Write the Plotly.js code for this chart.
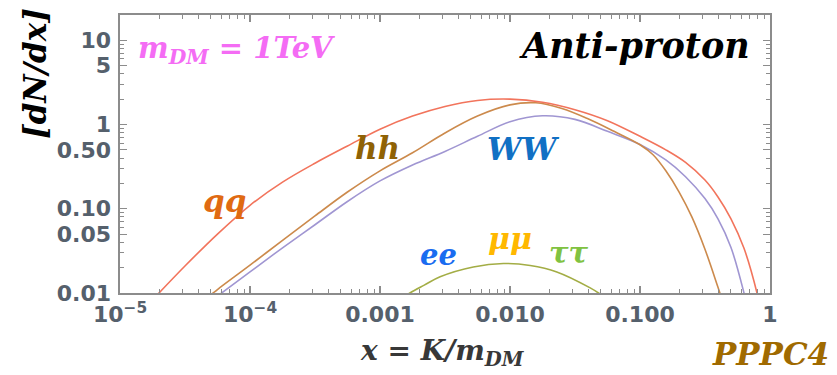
<!DOCTYPE html>
<html>
<head>
<meta charset="utf-8">
<script src="https://cdn.plot.ly/plotly-3.0.1.min.js"></script>
<style>
  html, body { margin: 0; padding: 0; background: #ffffff; }
  #chart { width: 837px; height: 375px; }
</style>
</head>
<body>
<div id="chart"></div>
<script>
// Anti-proton spectra dN/dx at production, m_DM = 1 TeV (PPPC4)
const qqX = [1.78e-5, 3.16e-5, 5.62e-5, 1.0e-4, 1.78e-4, 3.16e-4, 5.62e-4, 1.0e-3, 1.78e-3, 3.16e-3, 5.62e-3, 1.0e-2, 1.78e-2, 3.16e-2, 5.62e-2, 0.1, 0.158, 0.224, 0.316, 0.398, 0.501, 0.631, 0.794, 0.871];
const qqY = [0.0083, 0.0209, 0.0501, 0.110, 0.207, 0.347, 0.556, 0.881, 1.26, 1.64, 1.93, 2.0, 1.84, 1.50, 1.11, 0.724, 0.50, 0.355, 0.219, 0.138, 0.0759, 0.0339, 0.01, 0.005];

const hhX = [4.47e-5, 5.62e-5, 1.0e-4, 1.78e-4, 3.16e-4, 5.62e-4, 1.0e-3, 1.78e-3, 3.16e-3, 5.62e-3, 1.0e-2, 1.58e-2, 2.51e-2, 3.98e-2, 6.31e-2, 0.1, 0.126, 0.158, 0.2, 0.251, 0.316, 0.398, 0.447];
const hhY = [0.0083, 0.011, 0.0214, 0.0422, 0.0822, 0.158, 0.282, 0.462, 0.794, 1.26, 1.71, 1.81, 1.55, 1.17, 0.83, 0.575, 0.437, 0.282, 0.158, 0.0794, 0.0331, 0.0117, 0.0068];

const wwX = [5.25e-5, 1.0e-4, 1.78e-4, 3.16e-4, 5.62e-4, 1.0e-3, 1.78e-3, 3.16e-3, 5.62e-3, 1.0e-2, 1.78e-2, 3.16e-2, 5.62e-2, 0.1, 0.158, 0.224, 0.316, 0.398, 0.501, 0.631, 0.676];
const wwY = [0.0085, 0.0178, 0.0343, 0.0646, 0.122, 0.214, 0.331, 0.479, 0.724, 1.08, 1.27, 1.15, 0.83, 0.58, 0.38, 0.24, 0.132, 0.0759, 0.0347, 0.01, 0.0063];

// ee, μμ and ττ give the same (overlapping) curve
const lepX = [1.41e-3, 1.7e-3, 2.19e-3, 2.9e-3, 5.22e-3, 8.9e-3, 1.43e-2, 2.29e-2, 4.14e-2, 4.79e-2, 5.62e-2];
const lepY = [0.0083, 0.01, 0.0124, 0.0156, 0.0204, 0.0224, 0.0212, 0.0178, 0.0115, 0.01, 0.0083];

const xTickVals = [1e-5, 1e-4, 1e-3, 1e-2, 1e-1, 1];
const xTickText = ['10<sup>−5</sup>', '10<sup>−4</sup>', '0.001', '0.010', '0.100', '1'];
const yTickVals = [0.01, 0.05, 0.1, 0.5, 1, 5, 10];
const yTickText = ['0.01', '0.05', '0.10', '0.50', '1', '5', '10'];

// minor ticks: 2..9 in every decade
function minorTicks(lo, hi, skip) {
  const out = [];
  for (let e = lo; e < hi; e++) {
    for (let m = 2; m <= 9; m++) {
      if (skip && m === 5) continue;
      out.push(m * Math.pow(10, e));
    }
  }
  return out;
}

const line = (x, y, color) => ({
  x: x, y: y, type: 'scatter', mode: 'lines',
  line: { color: color, width: 1.6, shape: 'spline', smoothing: 1 },
  hoverinfo: 'skip', showlegend: false
});

const traces = [
  line(lepX, lepY, '#a3ad45'),
  line(wwX, wwY, '#a096d2'),
  line(hhX, hhY, '#cc8a4c'),
  line(qqX, qqY, '#f2745c')
];

const serif = 'DejaVu Serif';
const label = (text, x, y, color, size, extra) => Object.assign({
  text: '<b><i>' + text + '</i></b>', xref: 'paper', yref: 'paper', x: x, y: y,
  xanchor: 'center', yanchor: 'middle', showarrow: false,
  font: { family: serif, size: size, color: color }
}, extra || {});

// pixel -> paper helpers for the 650 x 278 plot area
const px = v => (v - 120) / 650;
const py = v => (293 - v) / 278;

const axisCommon = {
  type: 'log',
  showgrid: false, zeroline: false,
  showline: true, linecolor: '#8c8c8c', linewidth: 1.6,
  mirror: 'allticks',
  ticks: 'inside', ticklen: 7, tickwidth: 1.2, tickcolor: '#8c8c8c',
  tickmode: 'array',
  tickfont: { family: 'DejaVu Sans', size: 22, color: '#55606c', weight: 700 }
};

const layout = {
  width: 837, height: 375,
  margin: { l: 120, r: 67, t: 15, b: 82 },
  paper_bgcolor: '#ffffff', plot_bgcolor: '#ffffff',
  xaxis: Object.assign({}, axisCommon, {
    range: [-5, 0],
    tickvals: xTickVals, ticktext: xTickText,
    ticklabelstandoff: 1,
    minor: { tickmode: 'array', tickvals: minorTicks(-5, 0, false), ticks: 'inside', ticklen: 4, tickwidth: 1, tickcolor: '#8c8c8c' }
  }),
  yaxis: Object.assign({}, axisCommon, {
    range: [-2, 1.30],
    tickvals: yTickVals, ticktext: yTickText,
    ticklabelstandoff: 3,
    minor: { tickmode: 'array', tickvals: minorTicks(-2, 2, true), ticks: 'inside', ticklen: 4, tickwidth: 1, tickcolor: '#8c8c8c' }
  }),
  annotations: [
    label('m<sub>DM</sub> = 1TeV', px(236), py(50), '#f46cf4', 29),
    label('Anti-proton', px(634), py(45), '#000000', 35),
    label('qq', px(224), py(201), '#e06a12', 31),
    label('hh', px(377), py(148), '#8f6205', 31),
    label('WW', px(523), py(149), '#1170c4', 31),
    label('ee', px(438), py(255), '#1a6cf0', 29),
    label('μμ', px(510), py(238), '#ffb800', 30),
    label('ττ', px(569), py(253), '#80c241', 29),
    label('x = K/m<sub>DM</sub>', px(442), py(352), '#383838', 28),
    label('PPPC4', px(770), py(354), '#a06a00', 31),
    label('[dN/dx]', px(35), py(74), '#000000', 31, { textangle: -90 })
  ]
};

Plotly.newPlot('chart', traces, layout, { staticPlot: true, displayModeBar: false });
</script>
</body>
</html>
